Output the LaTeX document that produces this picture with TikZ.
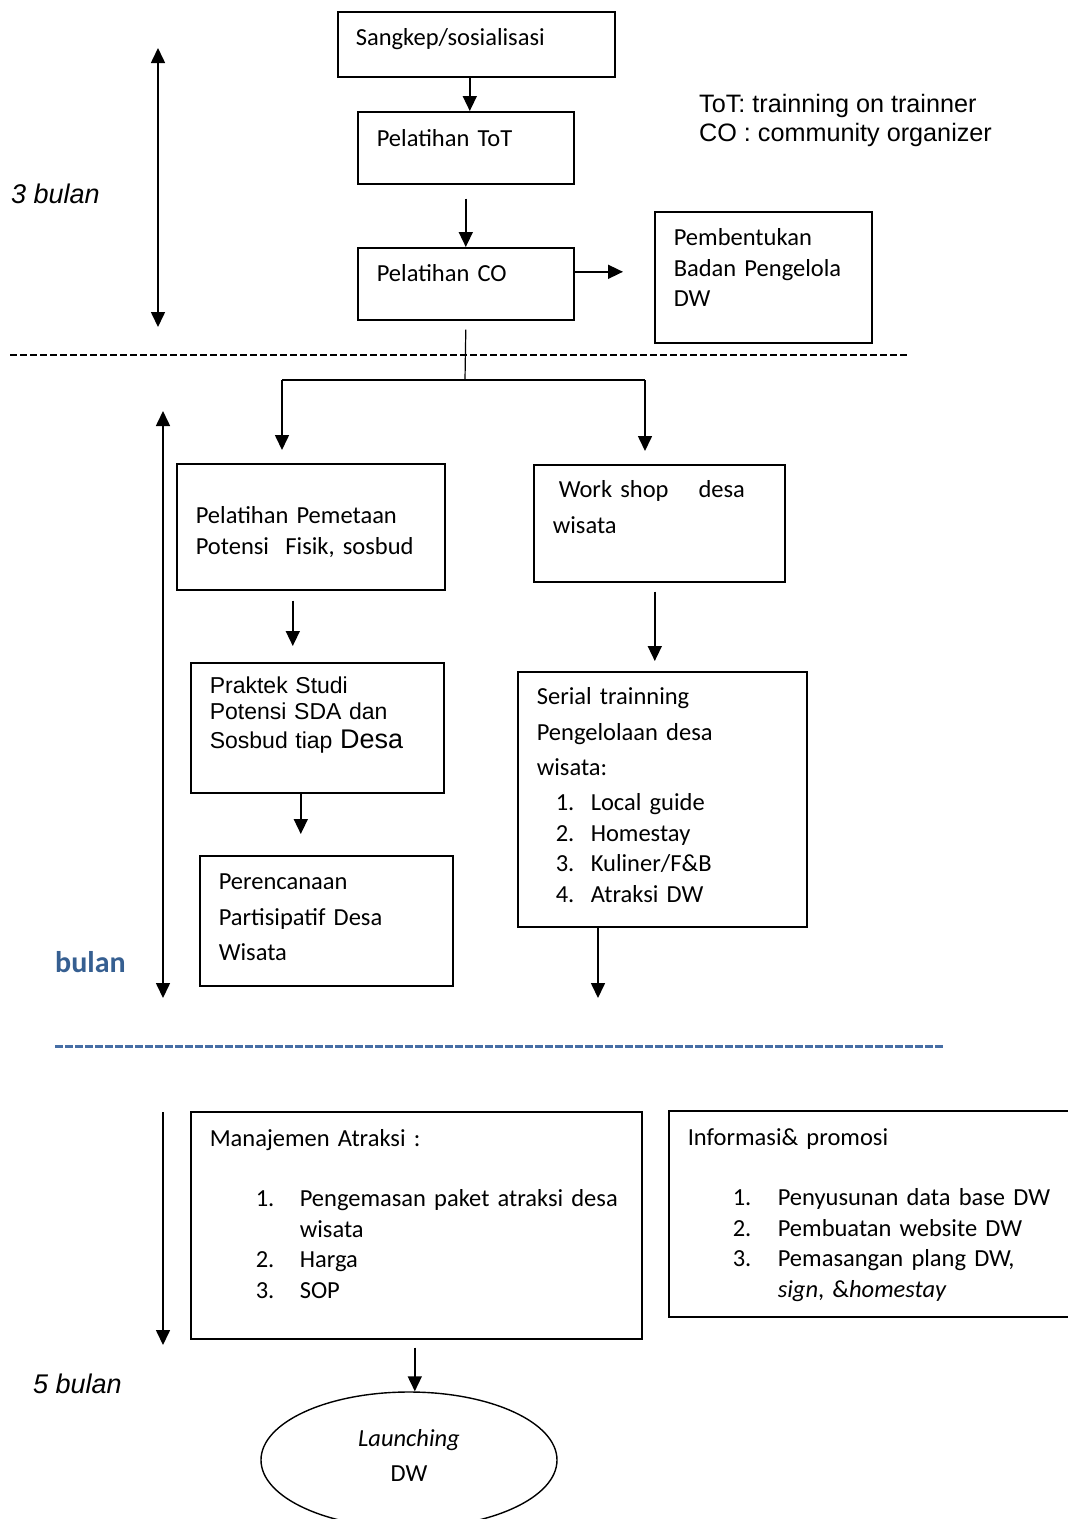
\documentclass[tikz,border=0pt]{standalone}
\usepackage{fontspec}
\setmainfont{Carlito}
\newfontfamily\arial{Liberation Sans}
\usetikzlibrary{arrows.meta,shapes.geometric}
\definecolor{wordblue}{RGB}{54,95,145}
\definecolor{dashblue}{RGB}{70,110,165}

\begin{document}
\begin{tikzpicture}
  [x=1pt, y=-1pt,
   stepbox/.style={draw, line width=1.6pt, anchor=north west, inner ysep=0pt,
                   align=left, font=\fontsize{24.5}{30.5}\selectfont},
   arr/.style={line width=1.6pt, -{Triangle[length=15pt,width=14pt]}},
   darr/.style={line width=1.6pt,
                {Triangle[length=15pt,width=14pt]}-{Triangle[length=15pt,width=14pt]}},
   note/.style={inner sep=0pt, anchor=base west, font=\arial\fontsize{25.2}{29}\selectfont},
   lama/.style={inner sep=0pt, anchor=base west, font=\arial\itshape\fontsize{27}{30}\selectfont}]

  \useasboundingbox (0,0) rectangle (1068,1519);

  % first phase
  \node[stepbox, inner xsep=18pt, text width=241pt, text height=34pt, text depth=31pt]
    (sang) at (337,11) {Sangkep/sosialisasi};
  \node[stepbox, inner xsep=19pt, text width=178pt, text height=35pt, text depth=37pt]
    (tot) at (357,111) {Pelatihan ToT};
  \node[stepbox, inner xsep=19pt, text width=178pt, text height=34pt, text depth=38pt]
    (co) at (357,247) {Pelatihan CO};
  \node[stepbox, inner xsep=19pt, text width=179pt, text height=34pt, text depth=97pt]
    (badan) at (654,211) {Pembentukan\\Badan Pengelola\\DW};

  \node[note] (ket1) at (699,112) {ToT: trainning on trainner};
  \node[note] (ket2) at (699,141) {CO : community organizer};
  \node[lama] (tiga) at (11,203) {3 bulan};

  \coordinate (t1a) at (158,48);
  \coordinate (t1b) at (158,327);
  \draw[darr] (t1a) -- (t1b);

  \coordinate (d1a) at (10,355);
  \coordinate (d1b) at (908,355);
  \draw[line width=2pt, dash pattern=on 7pt off 3pt] (d1a) -- (d1b);

  % second phase
  \node[stepbox, inner xsep=19pt, text width=230pt, text height=60pt, text depth=66pt]
    (petak) at (176,463) {Pelatihan Pemetaan\\Potensi\ \ Fisik, sosbud};
  \node[stepbox, inner xsep=19pt, text width=215pt, text height=31pt, text depth=99pt,
        font=\arial\fontsize{23}{26}\selectfont]
    (praktek) at (190,662)
    {Praktek Studi\\Potensi SDA dan\\[3pt]Sosbud tiap {\fontsize{27}{30}\selectfont Desa}};
  \node[stepbox, inner xsep=19pt, text width=215pt, text height=34pt, text depth=96pt]
    (rencana) at (199,855) {Perencanaan\\[5pt]Partisipatif Desa\\[5pt]Wisata};
  \node[stepbox, inner xsep=19pt, text width=213pt, text height=33pt, text depth=84pt]
    (workshop) at (533,464) {\hspace*{6pt}Work shop\hspace{30pt}desa\\[5.5pt]wisata};
  \node[stepbox, inner xsep=19pt, text width=251pt, text height=33pt, text depth=222pt]
    (serial) at (517,671)
    {Serial trainning\\[5pt]Pengelolaan desa\\[5pt]wisata:\\[4.5pt]
     \hspace*{19pt}\makebox[35pt][l]{1.}Local guide\\
     \hspace*{19pt}\makebox[35pt][l]{2.}Homestay\\
     \hspace*{19pt}\makebox[35pt][l]{3.}Kuliner/F\&B\\
     \hspace*{19pt}\makebox[35pt][l]{4.}Atraksi DW};

  \node[anchor=base west, inner sep=0pt, text=wordblue,
        font=\bfseries\fontsize{30}{36}\selectfont] (bulan) at (55,972) {bulan};

  \coordinate (t2a) at (163,411);
  \coordinate (t2b) at (163,998);
  \draw[darr] (t2a) -- (t2b);

  \coordinate (split) at (465,380);
  \coordinate (bl) at (282,380);
  \coordinate (br) at (645,380);
  \draw[line width=1.2pt] ([yshift=-9pt]co.south) -- (split);
  \draw[line width=1.6pt] (bl) -- (br);
  \draw[arr, shorten >=13pt] (bl) -- (bl |- petak.north);
  \draw[arr, shorten >=13pt] (br) -- (br |- workshop.north);

  \coordinate (serialend) at (598,998);

  \coordinate (d2a) at (55,1046);
  \coordinate (d2b) at (944,1046);
  \draw[dashblue, line width=3pt, dash pattern=on 8pt off 2pt] (d2a) -- (d2b);

  % third phase
  \node[stepbox, inner xsep=19pt, text width=413pt, text height=35pt, text depth=192pt]
    (atraksi) at (190,1111)
    {Manajemen Atraksi :\\[29.5pt]
     \hspace*{46pt}\makebox[44pt][l]{1.}Pengemasan paket atraksi desa\\
     \hspace*{90pt}wisata\\
     \hspace*{46pt}\makebox[44pt][l]{2.}Harga\\
     \hspace*{46pt}\makebox[44pt][l]{3.}SOP};
  \node[stepbox, inner xsep=19pt, text width=384pt, text height=35pt, text depth=171pt]
    (promosi) at (668,1110)
    {Informasi\& promosi\\[29.5pt]
     \hspace*{45pt}\makebox[45pt][l]{1.}Penyusunan data base DW\\
     \hspace*{45pt}\makebox[45pt][l]{2.}Pembuatan website DW\\
     \hspace*{45pt}\makebox[45pt][l]{3.}Pemasangan plang DW,\\
     \hspace*{90pt}\textit{sign}, \&\textit{homestay}};

  \node[ellipse, draw, line width=1.4pt, minimum width=296pt, minimum height=136pt,
        inner sep=0pt, text width=200pt, text height=20pt, text depth=48pt,
        align=center, font=\fontsize{24.5}{35}\selectfont]
    (launch) at (409,1460) {\textit{Launching}\\DW};

  \node[lama] (lima) at (33,1393) {5 bulan};

  \coordinate (t3a) at (163,1112);
  \coordinate (t3b) at (163,1345);
  \draw[arr] (t3a) -- (t3b);

  % connectors
  \draw[arr] ([xshift=-6.5pt]sang.south) -- ([xshift=-6.5pt]sang.south |- tot.north);
  \draw[arr, shorten <=14pt] (tot.south) -- (co.north);
  \draw[arr, shorten >=31pt] ([yshift=12pt]co.east) -- ([yshift=12pt]co.east -| badan.west);
  \draw[arr, shorten <=10pt, shorten >=16pt]
    ([xshift=-18pt]petak.south) -- ([xshift=-18pt]petak.south |- praktek.north);
  \draw[arr, shorten >=21pt]
    ([xshift=-16.5pt]praktek.south) -- ([xshift=-16.5pt]praktek.south |- rencana.north);
  \draw[arr, shorten <=9pt, shorten >=10pt]
    ([xshift=-4.5pt]workshop.south) -- ([xshift=-4.5pt]workshop.south |- serial.north);
  \draw[arr] (serialend |- serial.south) -- (serialend);
  \draw[arr, shorten <=8pt]
    ([xshift=-1.5pt]atraksi.south) -- ([xshift=-1.5pt]atraksi.south |- launch.north);
\end{tikzpicture}
\end{document}
